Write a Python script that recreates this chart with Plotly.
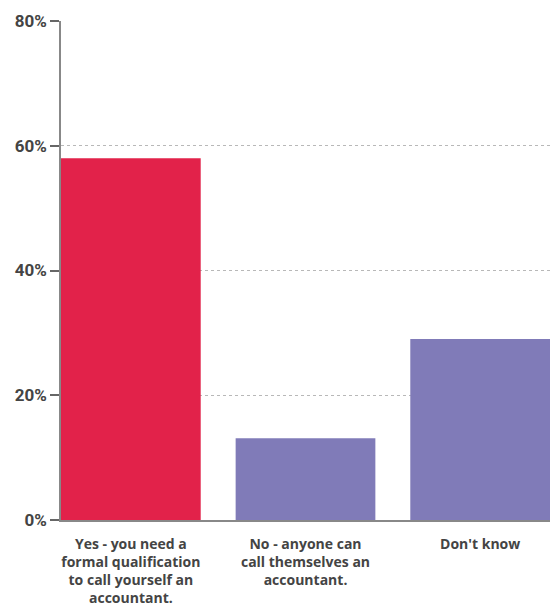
import plotly.graph_objects as go

categories = [
    "Yes - you need a<br>formal qualification<br>to call yourself an<br>accountant.",
    "No - anyone can<br>call themselves an<br>accountant.",
    "Don't know",
]
values = [58.0, 13.1, 29.0]
colors = ["#E2224A", "#807BB8", "#807BB8"]
y_ticks = [0, 20, 40, 60, 80]
y_tick_labels = ["0%", "20%", "40%", "60%", "80%"]

fig = go.Figure(
    go.Bar(
        x=categories,
        y=values,
        marker=dict(color=colors, line=dict(width=0)),
        hoverinfo="skip",
    )
)

fig.update_layout(
    width=551,
    height=608,
    margin=dict(l=61, r=1, t=21, b=88),
    paper_bgcolor="white",
    plot_bgcolor="white",
    bargap=0.2,
    showlegend=False,
    font=dict(family="Roboto", color="#444444"),
)

fig.update_xaxes(
    range=[-0.4, 2.4],
    automargin=False,
    showgrid=False,
    showline=True,
    linecolor="#888888",
    linewidth=1.5,
    ticks="",
    tickfont=dict(family="Open Sans", size=14, color="#444444", weight="bold"),
    ticklabelstandoff=10,
)

fig.update_yaxes(
    range=[0, 80],
    automargin=False,
    tickvals=y_ticks,
    ticktext=y_tick_labels,
    showgrid=True,
    gridcolor="#B8B8B8",
    griddash="3px,3px",
    gridwidth=1,
    showline=True,
    linecolor="#888888",
    linewidth=1.5,
    ticks="outside",
    ticklen=9,
    tickcolor="#666666",
    tickwidth=1.5,
    tickfont=dict(family="Roboto", size=17, color="#444444", weight="bold"),
    zeroline=False,
)

fig.write_html("out.html")
